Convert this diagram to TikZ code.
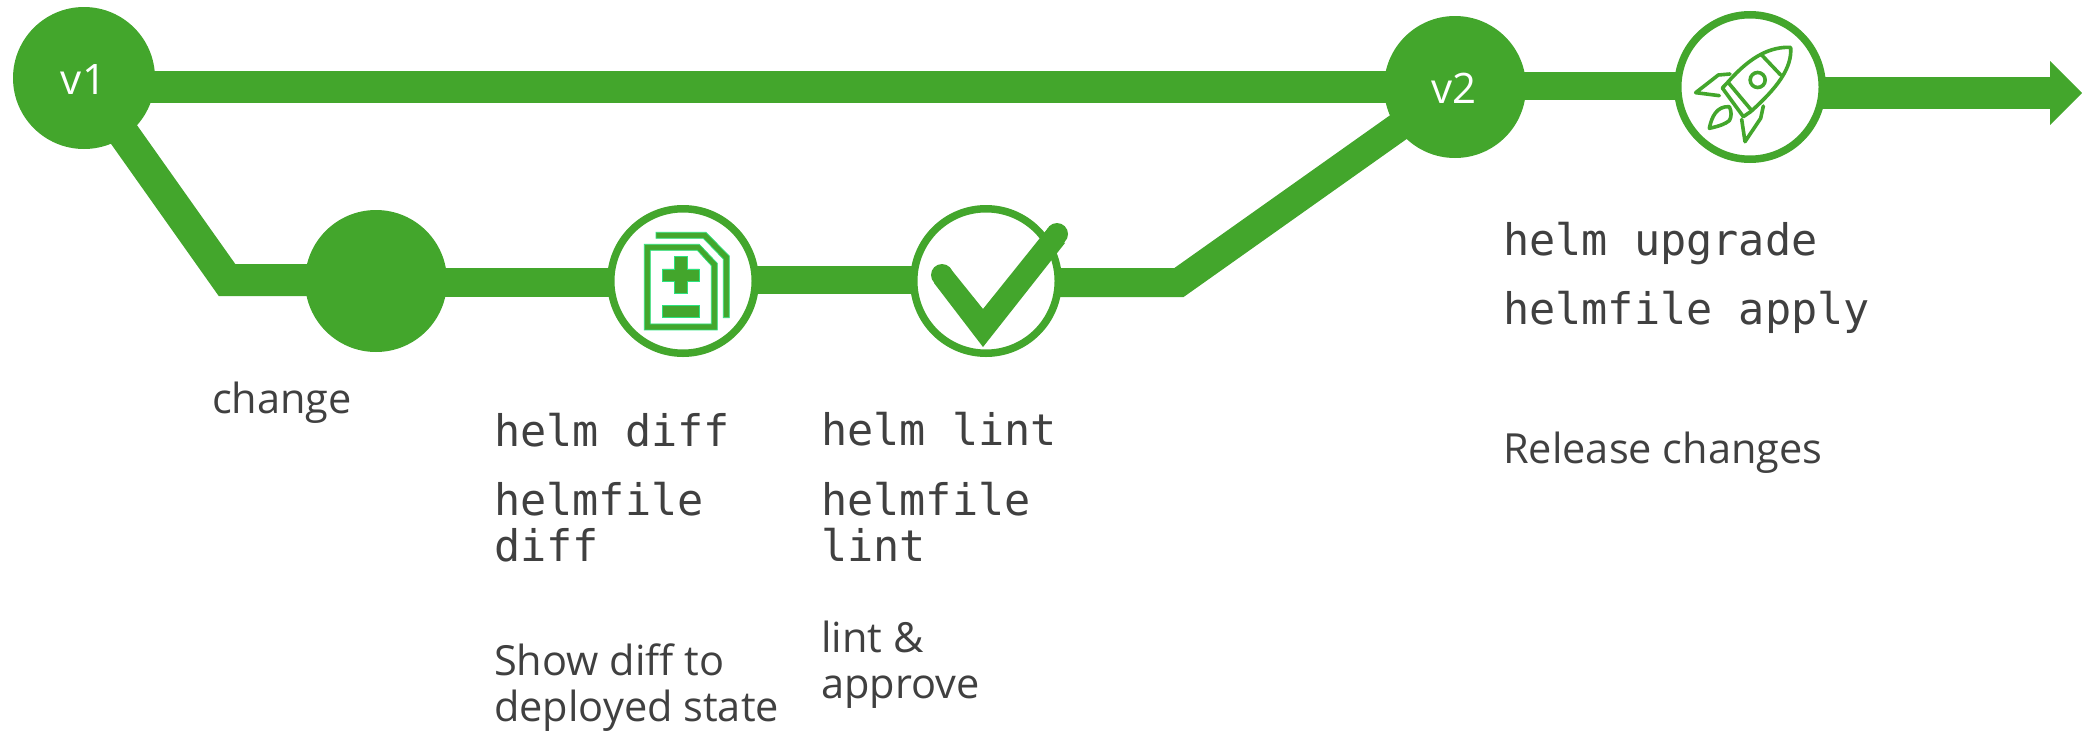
\documentclass[tikz,border=0pt]{standalone}
\usepackage{fontspec}
\setmainfont{Open Sans}
\setmonofont{DejaVu Sans Mono}
\usetikzlibrary{arrows.meta,backgrounds,calc}
\definecolor{grn}{HTML}{43A62C}
\definecolor{edgegrn}{HTML}{2BE37F}
\definecolor{txt}{HTML}{404040}
\tikzset{
  solidnode/.style={circle,fill=grn,draw=none,minimum size=142pt,inner sep=0pt},
  ringnode/.style={circle,fill=white,draw=grn,line width=7.5pt,minimum size=144.5pt,inner sep=0pt},
  vlabel/.style={anchor=base,text=white,inner sep=0pt,font=\fontsize{42}{48}\selectfont},
  bar/.style={draw=grn,line width=#1,line join=miter},
  codetxt/.style={anchor=base west,inner sep=0pt,text=txt,align=left,font=\fontsize{43.5}{46}\selectfont\ttfamily},
  sanstxt/.style={anchor=base west,inner sep=0pt,text=txt,align=left,font=\fontsize{41.5}{45.5}\selectfont},
  rocketline/.style={draw=grn,line width=3.6pt,line join=round,line cap=round},
  docshape/.style={fill=grn,draw=edgegrn,line width=0.7pt},
}
\begin{document}
\begin{tikzpicture}[x=1pt,y=-1pt]
\useasboundingbox (0,0) rectangle (2082,731);
% nodes
\node[solidnode] (v1) at (84,78) {};
\node[solidnode] (v2) at (1455,87) {};
\node[solidnode] (chg) at (376,281) {};
\node[ringnode] (dif) at (683,281) {};
\node[ringnode] (lnt) at (986,281) {};
\node[ringnode] (rkt) at (1750,87) {};
\node[vlabel] (v1t) at (83.5,94) {v1};
\node[vlabel] (v2t) at (1454,103) {v2};
\coordinate (bendA) at (227,280);
\coordinate (bendB) at (1179,282.5);
\coordinate (tip) at (2082,93);
% connectors
\begin{scope}[on background layer]
\draw[bar=32pt] ($(v1.center)+(0,9)$) -- (v2.center);
\draw[bar=32pt] (v1.center) -- (bendA) -- (bendA-|chg.center);
\draw[bar=29pt] ($(chg.center)+(0,1.5)$) -- ($(dif.center)+(0,1.5)$);
\draw[bar=28pt] ($(dif.center)+(0,-1)$) -- ($(lnt.center)+(0,-1)$);
\draw[bar=29pt] (bendB-|lnt.center) -- (bendB) -- (v2.center);
\draw[bar=28pt] ($(v2.center)+(0,-1)$) -- ($(rkt.center)+(0,-1)$);
\draw[bar=32pt,-{Triangle[length=32pt,width=64pt,line width=0pt]}] (rkt.center|-tip) -- (tip);
\end{scope}
% document icon
\begin{scope}[shift={(600,195)},x=0.3333pt,y=-0.3333pt]
\path[docshape,even odd rule] (133,148)--(298,148)--(352,205)--(352,405)--(133,405)--cycle
  (151,166)--(292,166)--(334,212)--(334,387)--(151,387)--cycle;
\path[docshape] (168,112)--(318,112)--(388,183)--(388,368)--(370,368)--(370,192)--(310,130)--(168,130)--cycle;
\path[docshape] (224,184)--(262,184)--(262,222)--(298,222)--(298,258)--(262,258)--(262,296)--(224,296)--(224,258)--(187,258)--(187,222)--(224,222)--cycle;
\path[docshape] (187,330)--(298,330)--(298,368)--(187,368)--cycle;
\end{scope}
% check mark
\fill[grn] (983,309)--(1048,228)--(1065,243)--(983,347)--(934,283)--(950,268)--cycle;
\fill[grn] (1057,234) circle (11pt);
\fill[grn] (942,275) circle (11pt);
% rocket icon
\begin{scope}[shift={(1660,0)},x=0.3333pt,y=-0.3333pt]
\draw[rocketline] (392,142) .. controls (335,140) and (275,165) .. (205,245)
  -- (187,264) -- (250,350) -- (272,335) .. controls (350,265) and (397,205) .. (392,142) -- cycle;
\draw[rocketline] (205,248) -- (272,328);
\draw[rocketline] (305,165) -- (362,225);
\draw[rocketline] (293,240) circle (7.5pt);
\draw[rocketline] (210,222) -- (175,225) -- (107,278) -- (178,287);
\draw[rocketline] (310,318) -- (302,355) -- (255,425) -- (245,358);
\draw[rocketline] (208,320) .. controls (170,318) and (155,350) .. (148,385)
  .. controls (180,378) and (195,372) .. (208,362) .. controls (215,350) and (215,335) .. (208,320) -- cycle;
\end{scope}
% texts
\node[sanstxt] (t0) at (212,413) {change};
\node[codetxt] (t1) at (494,446) {helm diff};
\node[codetxt] (t2) at (494,561) {helmfile\\diff};
\node[sanstxt] (t3) at (494,721) {Show diff to\\deployed state};
\node[codetxt] (t4) at (821,445) {helm lint};
\node[codetxt] (t5) at (821,561) {helmfile\\lint};
\node[sanstxt] (t6) at (821,698) {lint \&\\approve};
\node[codetxt] (t7) at (1503,255) {helm upgrade};
\node[codetxt] (t8) at (1503,324) {helmfile apply};
\node[sanstxt] (t9) at (1503,463) {Release changes};
\end{tikzpicture}
\end{document}
